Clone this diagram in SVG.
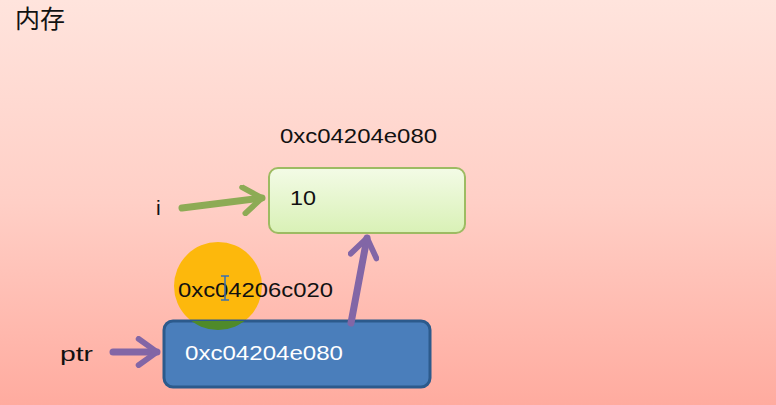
<svg xmlns="http://www.w3.org/2000/svg" width="776" height="405" viewBox="0 0 776 405">
<defs>
<linearGradient id="bg" x1="0" y1="0" x2="0" y2="1">
<stop offset="0" stop-color="#ffe4dd"/>
<stop offset="0.5" stop-color="#ffcfc6"/>
<stop offset="1" stop-color="#ffab9f"/>
</linearGradient>
<linearGradient id="gbox" x1="0" y1="0" x2="0" y2="1">
<stop offset="0" stop-color="#f3fbe6"/>
<stop offset="1" stop-color="#d9f1b6"/>
</linearGradient>
<clipPath id="circ"><circle cx="218" cy="286" r="44"/></clipPath>
<marker id="ag" viewBox="0 0 12 12" refX="10" refY="6" markerWidth="4.5" markerHeight="4.5" orient="auto" markerUnits="strokeWidth">
<path d="M3,1 L10,6 L3,11" fill="none" stroke="#8dab55" stroke-width="2.2" stroke-linecap="round" stroke-linejoin="round"/>
</marker>
<marker id="ap" viewBox="0 0 12 12" refX="10" refY="6" markerWidth="4.5" markerHeight="4.5" orient="auto" markerUnits="strokeWidth">
<path d="M3,1 L10,6 L3,11" fill="none" stroke="#8266a6" stroke-width="2.2" stroke-linecap="round" stroke-linejoin="round"/>
</marker>
</defs>
<style>
.t{font-family:"Liberation Sans","Noto Sans CJK SC",sans-serif;font-size:21px;fill:#111}
.w{fill:#fff}
.cg{stroke:#8dab55;stroke-width:7;fill:none;stroke-linecap:round}
.cp{stroke:#8266a6;stroke-width:7;fill:none;stroke-linecap:round}
</style>
<rect width="776" height="405" fill="url(#bg)"/>
<text x="15" y="28" style="font-family:'Noto Sans CJK SC',sans-serif;font-size:25px;fill:#111">内存</text>

<g id="highlight">
<circle cx="218" cy="286" r="44" fill="#fdb80c"/>
</g>

<g id="node-i">
<rect x="269" y="168" width="196" height="65" rx="9" fill="url(#gbox)" stroke="#9dbb62" stroke-width="2"/>
<text class="t" x="290" y="205" textLength="26" lengthAdjust="spacingAndGlyphs">10</text>
<text class="t" x="280" y="143" textLength="157" lengthAdjust="spacingAndGlyphs">0xc04204e080</text>
</g>

<g id="node-ptr">
<rect x="164" y="321" width="266" height="66" rx="9" fill="#4a7ebb" stroke="#2c5a8c" stroke-width="3"/>
<rect x="164" y="321" width="266" height="66" fill="#4f8a2a" clip-path="url(#circ)"/>
<text class="t w" x="185" y="360" textLength="158" lengthAdjust="spacingAndGlyphs">0xc04204e080</text>
<text class="t" x="178" y="297" textLength="155" lengthAdjust="spacingAndGlyphs">0xc04206c020</text>
</g>

<g id="label-i"><text class="t" x="156" y="215">i</text></g>
<g id="label-ptr"><text class="t" x="60" y="361" textLength="33" lengthAdjust="spacingAndGlyphs">ptr</text></g>

<g id="cursor" stroke="#3a6fb0" stroke-width="1.5" fill="none">
<path d="M225,276 V300 M221,276 H229 M221,300 H229"/>
</g>

<g id="connectors">
<path class="cg" d="M182,208 L262,198" marker-end="url(#ag)"/>
<path class="cp" d="M113,352 L157,352" marker-end="url(#ap)"/>
<path class="cp" d="M351,323 L367,238" marker-end="url(#ap)"/>
</g>
</svg>
